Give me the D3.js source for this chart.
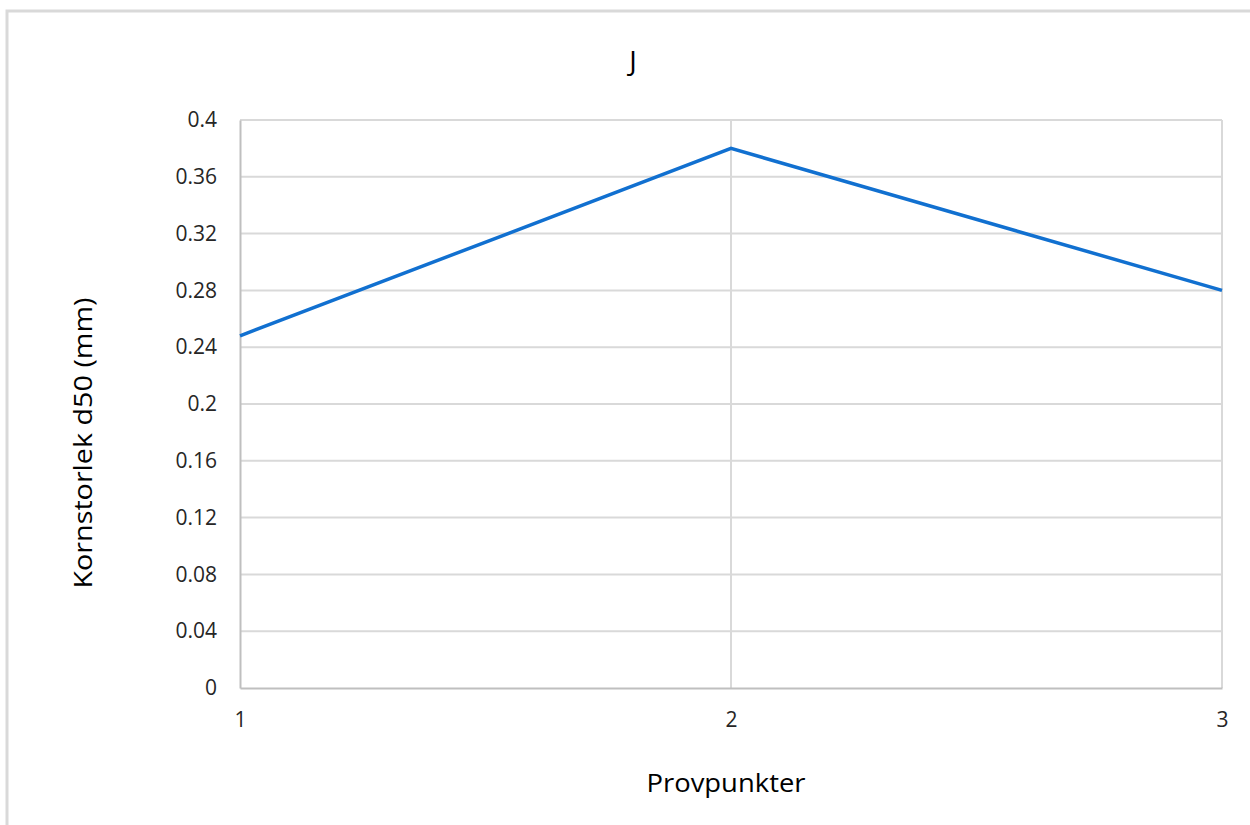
<!DOCTYPE html>
<html><head><meta charset="utf-8">
<script src="https://cdn.jsdelivr.net/npm/d3@7"></script>
<style>body{margin:0;background:#fff;} svg{display:block;}</style>
</head><body>
<svg id="c" width="1250" height="825"></svg>
<script>
const categories = [1, 2, 3];
const values = [0.248, 0.38, 0.28];
const yTicks = [0, 0.04, 0.08, 0.12, 0.16, 0.2, 0.24, 0.28, 0.32, 0.36, 0.4];
const title = "J";
const xTitle = "Provpunkter";
const yTitle = "Kornstorlek d50 (mm)";

const svg = d3.select("#c");
const font = "'Open Sans', 'Liberation Sans', sans-serif";
const L = 240, R = 1222, T = 120, B = 688;

// outer frame (top and left only visible)
svg.append("path").attr("d", "M7,825 V11 H1250").attr("fill", "none")
  .attr("stroke", "#d9d9d9").attr("stroke-width", 3);

const x = d3.scalePoint().domain(categories).range([L, R]);
const y = d3.scaleLinear().domain([0, 0.4]).range([B, T]);

// horizontal gridlines
svg.append("g").selectAll("line").data(yTicks.filter(d => d > 0)).join("line")
  .attr("x1", L).attr("x2", R).attr("y1", d => y(d)).attr("y2", d => y(d))
  .attr("stroke", "#d9d9d9").attr("stroke-width", 2);
// vertical gridlines at categories
svg.append("g").selectAll("line").data(categories.slice(1)).join("line")
  .attr("x1", d => x(d)).attr("x2", d => x(d)).attr("y1", T).attr("y2", B)
  .attr("stroke", "#d9d9d9").attr("stroke-width", 2);

// axes
const yAxis = svg.append("g").attr("transform", `translate(${L},0)`)
  .call(d3.axisLeft(y).tickValues(yTicks).tickFormat(d => String(+d.toFixed(2))).tickSize(0).tickPadding(23));
yAxis.select(".domain").attr("stroke", "#bfbfbf").attr("stroke-width", 2);
yAxis.selectAll("text").attr("font-family", font).attr("font-size", 21).attr("fill", "#262626");

const xAxis = svg.append("g").attr("transform", `translate(0,${B})`)
  .call(d3.axisBottom(x).tickSize(0).tickPadding(24));
xAxis.select(".domain").attr("stroke", "#bfbfbf").attr("stroke-width", 2);
xAxis.selectAll("text").attr("font-family", font).attr("font-size", 21).attr("fill", "#262626");

// line
svg.append("path").datum(categories.map((c, i) => [c, values[i]]))
  .attr("fill", "none").attr("stroke", "#1170d0").attr("stroke-width", 3.5)
  .attr("stroke-linejoin", "miter")
  .attr("d", d3.line().x(d => x(d[0])).y(d => y(d[1])));

// titles
svg.append("text").attr("x", 633).attr("y", 71).attr("text-anchor", "middle")
  .attr("font-family", font).attr("font-size", 28).attr("fill", "#000").text(title);
svg.append("text").attr("x", 726).attr("y", 792).attr("text-anchor", "middle")
  .attr("font-family", font).attr("font-size", 26).attr("fill", "#000")
  .attr("textLength", 159).attr("lengthAdjust", "spacingAndGlyphs").text(xTitle);
svg.append("text").attr("transform", "translate(92,443) rotate(-90)").attr("text-anchor", "middle")
  .attr("font-family", font).attr("font-size", 26).attr("fill", "#000")
  .attr("textLength", 291).attr("lengthAdjust", "spacingAndGlyphs").text(yTitle);
</script>
</body></html>
